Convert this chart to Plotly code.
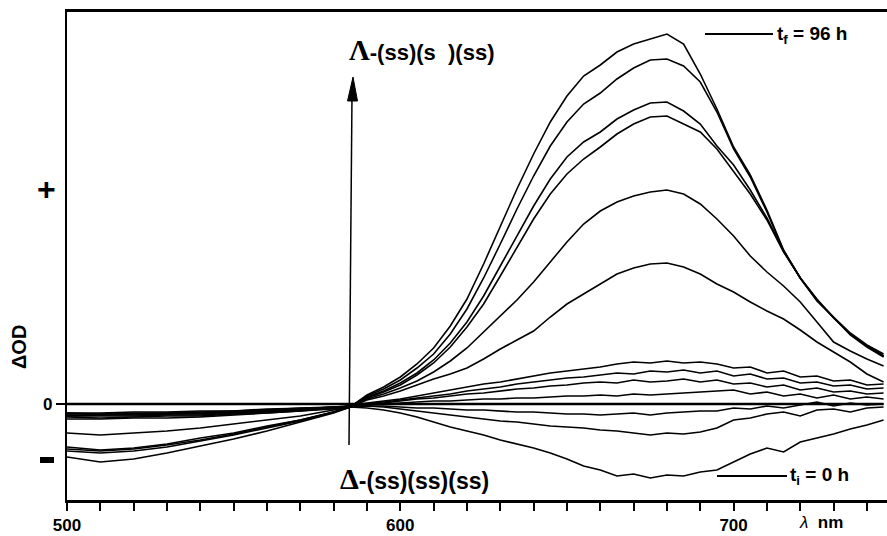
import plotly.graph_objects as go

# ---------------- data ----------------
WAVELENGTH = [500, 510, 520, 530, 540, 550, 560, 570, 580,
              585, 590, 595, 600, 605, 610, 615, 620, 625, 630, 635, 640, 645,
              650, 655, 660, 665, 670, 675, 680, 685, 690, 695, 700, 705, 710,
              715, 720, 725, 730, 735, 740, 745]

CURVE_A = [-0.53, -0.58, -0.55, -0.49, -0.42, -0.35, -0.27, -0.18, -0.09,
           -0.03, 0.09, 0.17, 0.27, 0.40, 0.56, 0.78, 1.05, 1.40, 1.78, 2.15, 2.50, 2.82,
           3.08, 3.28, 3.39, 3.52, 3.60, 3.65, 3.70, 3.60, 3.30, 2.95, 2.57, 2.29, 1.94,
           1.54, 1.26, 1.04, 0.86, 0.69, 0.57, 0.47]
CURVE_B = [-0.47, -0.49, -0.47, -0.43, -0.37, -0.31, -0.24, -0.17, -0.08,
           -0.03, 0.08, 0.15, 0.24, 0.36, 0.50, 0.70, 0.95, 1.26, 1.60, 1.95, 2.28, 2.58,
           2.82, 3.00, 3.11, 3.25, 3.36, 3.44, 3.45, 3.38, 3.22, 2.92, 2.55, 2.27, 1.92,
           1.53, 1.26, 1.05, 0.86, 0.70, 0.58, 0.48]
CURVE_C = [-0.45, -0.47, -0.45, -0.41, -0.36, -0.30, -0.23, -0.16, -0.08,
           -0.03, 0.07, 0.13, 0.21, 0.31, 0.44, 0.61, 0.82, 1.08, 1.38, 1.68, 1.98, 2.25,
           2.47, 2.62, 2.72, 2.85, 2.94, 3.01, 3.02, 2.93, 2.80, 2.58, 2.39, 2.14, 1.86,
           1.53, 1.26, 1.03, 0.86, 0.70, 0.58, 0.48]
CURVE_D = [-0.43, -0.46, -0.44, -0.40, -0.34, -0.29, -0.22, -0.16, -0.08,
           -0.03, 0.06, 0.12, 0.19, 0.29, 0.41, 0.57, 0.77, 1.00, 1.28, 1.57, 1.85, 2.10,
           2.30, 2.45, 2.57, 2.70, 2.80, 2.87, 2.88, 2.80, 2.72, 2.55, 2.33, 2.10, 1.84,
           1.52, 1.26, 1.04, 0.87, 0.71, 0.59, 0.50]
CURVE_E = [-0.29, -0.31, -0.29, -0.27, -0.24, -0.20, -0.16, -0.12, -0.06,
           -0.03, 0.05, 0.10, 0.16, 0.23, 0.32, 0.43, 0.56, 0.72, 0.88, 1.04, 1.22, 1.42,
           1.62, 1.80, 1.93, 2.02, 2.08, 2.12, 2.14, 2.10, 2.00, 1.85, 1.68, 1.48, 1.32,
           1.18, 1.02, 0.82, 0.62, 0.53, 0.45, 0.38]
CURVE_F = [-0.15, -0.15, -0.14, -0.14, -0.13, -0.11, -0.09, -0.07, -0.05,
           -0.03, 0.04, 0.08, 0.13, 0.19, 0.25, 0.30, 0.36, 0.45, 0.55, 0.64, 0.73, 0.87,
           1.00, 1.10, 1.20, 1.30, 1.36, 1.40, 1.41, 1.37, 1.30, 1.20, 1.12, 1.02, 0.93,
           0.85, 0.74, 0.62, 0.52, 0.42, 0.30, 0.22]
CURVE_G = [-0.13, -0.14, -0.13, -0.12, -0.12, -0.10, -0.09, -0.07, -0.04,
           -0.02, 0.01, 0.03, 0.05, 0.08, 0.11, 0.14, 0.17, 0.20, 0.22, 0.25, 0.28, 0.31,
           0.33, 0.35, 0.37, 0.40, 0.42, 0.41, 0.43, 0.41, 0.42, 0.40, 0.36, 0.37, 0.31,
           0.33, 0.27, 0.28, 0.23, 0.24, 0.19, 0.20]
CURVE_H = [-0.12, -0.12, -0.12, -0.11, -0.11, -0.09, -0.08, -0.06, -0.04,
           -0.02, 0.00, 0.02, 0.04, 0.06, 0.08, 0.10, 0.13, 0.15, 0.17, 0.20, 0.22, 0.24,
           0.26, 0.27, 0.29, 0.31, 0.30, 0.33, 0.32, 0.34, 0.31, 0.33, 0.28, 0.30, 0.25,
           0.26, 0.21, 0.22, 0.18, 0.19, 0.15, 0.16]
CURVE_I = [-0.12, -0.11, -0.11, -0.10, -0.10, -0.09, -0.07, -0.06, -0.04,
           -0.02, 0.00, 0.01, 0.03, 0.05, 0.06, 0.08, 0.10, 0.11, 0.13, 0.15, 0.16, 0.18,
           0.19, 0.21, 0.22, 0.21, 0.24, 0.22, 0.23, 0.25, 0.22, 0.24, 0.20, 0.21, 0.17,
           0.19, 0.14, 0.16, 0.12, 0.13, 0.10, 0.11]
CURVE_J = [-0.11, -0.11, -0.10, -0.10, -0.09, -0.08, -0.07, -0.05, -0.03,
           -0.02, -0.01, 0.00, 0.01, 0.02, 0.03, 0.03, 0.04, 0.05, 0.05, 0.06, 0.06, 0.07,
           0.08, 0.08, 0.09, 0.08, 0.10, 0.09, 0.10, 0.11, 0.12, 0.13, 0.14, 0.10, 0.12,
           0.08, 0.10, 0.06, 0.09, 0.05, 0.07, 0.05]
BASELINE = [0.0, 0.0, 0.0, 0.0, 0.0, 0.0, 0.0, 0.0, 0.0,
            0.0, 0.0, 0.0, 0.0, 0.0, 0.0, 0.0, 0.0, 0.0, 0.0, 0.0, 0.0, 0.0,
            0.0, 0.0, 0.0, 0.0, 0.0, 0.0, 0.0, 0.0, 0.0, 0.0, 0.0, 0.0, 0.0,
            0.0, 0.0, 0.0, 0.0, 0.0, 0.0, 0.0]
CURVE_K = [-0.10, -0.10, -0.10, -0.09, -0.09, -0.08, -0.06, -0.05, -0.03,
           -0.02, -0.02, -0.02, -0.03, -0.04, -0.04, -0.05, -0.06, -0.06, -0.07, -0.08, -0.08, -0.09,
           -0.10, -0.10, -0.11, -0.10, -0.09, -0.11, -0.09, -0.08, -0.07, -0.07, -0.04, -0.05, -0.02,
           -0.04, -0.01, 0.02, -0.02, 0.01, -0.01, 0.00]
CURVE_L = [-0.09, -0.10, -0.09, -0.09, -0.08, -0.07, -0.06, -0.04, -0.03,
           -0.02, -0.02, -0.03, -0.05, -0.07, -0.09, -0.11, -0.13, -0.15, -0.17, -0.18, -0.20, -0.22,
           -0.23, -0.24, -0.26, -0.27, -0.29, -0.31, -0.29, -0.30, -0.28, -0.24, -0.16, -0.14, -0.10,
           -0.08, -0.12, -0.06, -0.05, -0.08, -0.04, -0.03]
CURVE_M = [-0.09, -0.09, -0.08, -0.08, -0.07, -0.07, -0.05, -0.04, -0.03,
           -0.03, -0.04, -0.06, -0.09, -0.13, -0.18, -0.23, -0.27, -0.31, -0.36, -0.40, -0.44, -0.49,
           -0.55, -0.62, -0.66, -0.72, -0.70, -0.74, -0.71, -0.72, -0.68, -0.66, -0.58, -0.50, -0.44,
           -0.48, -0.38, -0.34, -0.30, -0.25, -0.21, -0.16]

X_MAJOR_TICKS = [500, 600, 700]
X_TICK_LABELS = ["500", "600", "700"]

SERIES = [CURVE_A, CURVE_B, CURVE_C, CURVE_D, CURVE_E, CURVE_F, CURVE_G,
          CURVE_H, CURVE_I, CURVE_J, CURVE_K, CURVE_L, CURVE_M]
for s in SERIES + [BASELINE]:
    assert len(s) == len(WAVELENGTH)

# ---------------- layout geometry ----------------
W, H = 887, 536
L, T, R, B = 67, 12, 0, 36
PW, PH = W - L - R, H - T - B


def px(xp):
    return (xp - L) / PW


def py(yp):
    return (H - B - yp) / PH


fig = go.Figure()
for s in SERIES:
    fig.add_trace(go.Scatter(x=WAVELENGTH, y=s, mode="lines",
                             line=dict(color="black", width=1.6),
                             showlegend=False, hoverinfo="skip"))
fig.add_trace(go.Scatter(x=WAVELENGTH, y=BASELINE, mode="lines",
                         line=dict(color="black", width=2.6),
                         showlegend=False, hoverinfo="skip"))

SANS = "Liberation Sans, Arial, sans-serif"

fig.update_layout(
    width=W, height=H,
    margin=dict(l=L, r=R, t=T, b=B, pad=0, autoexpand=False),
    paper_bgcolor="white", plot_bgcolor="white",
    xaxis=dict(range=[500, 500 + PW / 3.333], showgrid=False, zeroline=False,
               automargin=False,
               showline=True, linecolor="black", linewidth=2.5, mirror=True,
               ticks="outside", ticklen=8, tickwidth=1.6, tickcolor="black",
               tickvals=X_MAJOR_TICKS, ticktext=X_TICK_LABELS,
               minor=dict(ticks="outside", ticklen=8, tickwidth=1.6,
                          tickcolor="black", dtick=10, showgrid=False),
               tickfont=dict(family=SANS, size=17, color="black", weight="bold")),
    yaxis=dict(range=[-0.96, 3.92],
               showgrid=False, zeroline=False, automargin=False,
               showline=True, linecolor="black", linewidth=2.2,
               ticks="outside", ticklen=9, tickwidth=1.6, tickcolor="black",
               tickvals=[0], ticktext=["0"],
               tickfont=dict(family=SANS, size=17, color="black", weight="bold")),
)


def note(xp, yp, text, size, **kw):
    d = dict(x=px(xp), y=py(yp), xref="paper", yref="paper", showarrow=False,
             xanchor="center", yanchor="middle", text=text,
             font=dict(family=SANS, size=size, color="black"))
    d.update(kw)
    return d


annotations = [
    note(421, 50,
         "<span style='font-family:Liberation Serif;font-size:29px'><b>Λ</b></span>"
         "<b>-(ss)(s\u00a0\u00a0)(ss)</b>", 22),
    note(414, 478,
         "<span style='font-family:Liberation Serif;font-size:30px'><b>Δ</b></span>"
         "<b>-(ss)(ss)(ss)</b>", 23),
    note(775, 35, "<b>t<sub>f</sub> = 96 h</b>", 19, xanchor="left"),
    note(788, 476, "<b>t<sub>i</sub> = 0 h</b>", 19, xanchor="left"),
    note(821, 522, "<i>λ</i>\u00a0\u00a0<b>nm</b>", 17),
    note(19, 347, "<b>ΔOD</b>", 20, textangle=-90),
    note(46, 189, "<b>+</b>", 32),
]
fig.update_layout(annotations=annotations)

shapes = [
    # arrow shaft and head
    dict(type="line", xref="paper", yref="paper", x0=px(349), x1=px(352),
         y0=py(445), y1=py(95), line=dict(color="black", width=1.5)),
    dict(type="path", xref="paper", yref="paper",
         path=(f"M {px(353)} {py(77)} L {px(347.5)} {py(101)} "
               f"L {px(357.5)} {py(101)} Z"),
         fillcolor="black", line=dict(color="black", width=1)),
    # legend lines
    dict(type="line", xref="paper", yref="paper", x0=px(705), x1=px(773),
         y0=py(34), y1=py(34), line=dict(color="black", width=1.8)),
    dict(type="line", xref="paper", yref="paper", x0=px(717), x1=px(787),
         y0=py(476), y1=py(476), line=dict(color="black", width=1.8)),
    # minus sign
    dict(type="rect", xref="paper", yref="paper", x0=px(40), x1=px(54),
         y0=py(463), y1=py(457), fillcolor="black", line=dict(width=0)),
]
fig.update_layout(shapes=shapes)

fig.write_html("out.html")
